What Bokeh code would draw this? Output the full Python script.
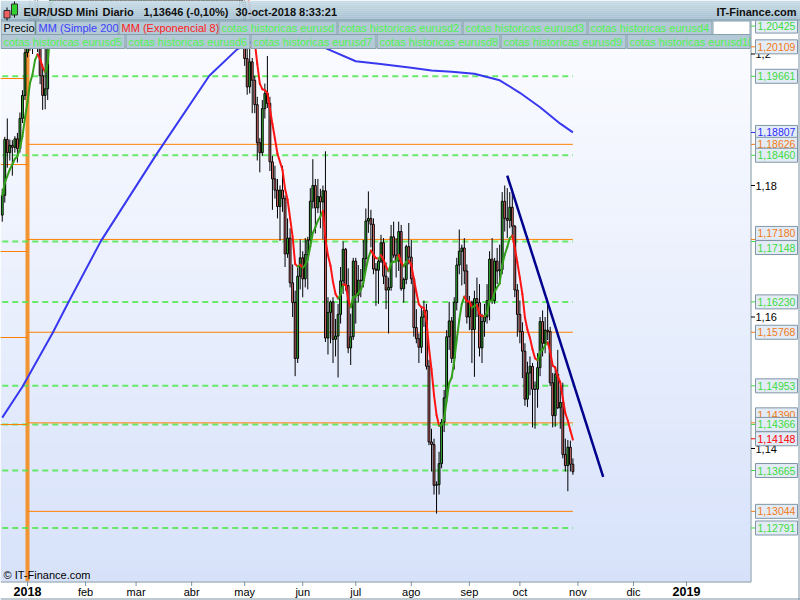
import numpy as np
import pandas as pd
from bokeh.plotting import figure
from bokeh.models import Range1d, ColumnDataSource
from bokeh.core.properties import value
from bokeh.embed import file_html
from bokeh.resources import INLINE

FONT = "Liberation Sans"

# ---------------------------------------------------------------------------
# EUR/USD daily sessions: (open, high, low, close), one list per month
# ---------------------------------------------------------------------------
dec_2017 = [
    (1.1755, 1.1795, 1.1745, 1.1785), (1.1785, 1.1874, 1.1774, 1.1870),
    (1.1870, 1.1902, 1.1827, 1.1850), (1.1850, 1.1870, 1.1838, 1.1861),
    (1.1861, 1.1869, 1.1815, 1.1858), (1.1858, 1.1875, 1.1850, 1.1871),
    (1.1871, 1.1880, 1.1835, 1.1856), (1.1856, 1.1911, 1.1850, 1.1902),
    (1.1902, 1.1945, 1.1895, 1.1937), (1.1937, 1.2023, 1.1930, 1.2002),
]
jan_2018 = [
    (1.2002, 1.2030, 1.1995, 1.2010), (1.2010, 1.2081, 1.2005, 1.2058),
    (1.2058, 1.2066, 1.2000, 1.2016), (1.2016, 1.2089, 1.2010, 1.2067),
    (1.2067, 1.2088, 1.2003, 1.2029), (1.2029, 1.2035, 1.1954, 1.1967),
    (1.1967, 1.1985, 1.1915, 1.1937), (1.1937, 1.2018, 1.1916, 1.1947),
    (1.1947, 1.2058, 1.1930, 1.2035), (1.2035, 1.2218, 1.2030, 1.2200),
    (1.2200, 1.2296, 1.2190, 1.2265), (1.2265, 1.2323, 1.2220, 1.2262),
    (1.2262, 1.2290, 1.2165, 1.2237), (1.2237, 1.2295, 1.2200, 1.2238),
    (1.2238, 1.2297, 1.2210, 1.2221), (1.2221, 1.2272, 1.2217, 1.2262),
    (1.2262, 1.2308, 1.2235, 1.2300), (1.2300, 1.2415, 1.2295, 1.2408),
    (1.2408, 1.2537, 1.2370, 1.2398), (1.2398, 1.2455, 1.2376, 1.2427),
    (1.2427, 1.2435, 1.2335, 1.2383), (1.2383, 1.2426, 1.2336, 1.2399),
    (1.2399, 1.2475, 1.2385, 1.2414),
]
feb_2018 = [
    (1.2414, 1.2522, 1.2405, 1.2510), (1.2510, 1.2525, 1.2440, 1.2459),
    (1.2459, 1.2490, 1.2360, 1.2367), (1.2367, 1.2438, 1.2335, 1.2382),
    (1.2382, 1.2405, 1.2260, 1.2267), (1.2267, 1.2295, 1.2205, 1.2254),
    (1.2254, 1.2290, 1.2206, 1.2251), (1.2251, 1.2307, 1.2245, 1.2290),
    (1.2290, 1.2370, 1.2270, 1.2354), (1.2354, 1.2470, 1.2275, 1.2451),
    (1.2451, 1.2515, 1.2435, 1.2505), (1.2505, 1.2555, 1.2395, 1.2408),
    (1.2408, 1.2426, 1.2376, 1.2408), (1.2408, 1.2425, 1.2320, 1.2335),
    (1.2335, 1.2360, 1.2260, 1.2285), (1.2285, 1.2335, 1.2260, 1.2327),
    (1.2327, 1.2335, 1.2280, 1.2296), (1.2296, 1.2355, 1.2280, 1.2315),
    (1.2315, 1.2340, 1.2222, 1.2232), (1.2232, 1.2245, 1.2190, 1.2194),
]
mar_2018 = [
    (1.2194, 1.2273, 1.2155, 1.2268), (1.2268, 1.2335, 1.2265, 1.2316),
    (1.2316, 1.2365, 1.2270, 1.2338), (1.2338, 1.2415, 1.2330, 1.2404),
    (1.2404, 1.2445, 1.2395, 1.2408), (1.2408, 1.2448, 1.2300, 1.2312),
    (1.2312, 1.2336, 1.2260, 1.2306), (1.2306, 1.2350, 1.2290, 1.2335),
    (1.2335, 1.2413, 1.2315, 1.2392), (1.2392, 1.2410, 1.2360, 1.2368),
    (1.2368, 1.2385, 1.2295, 1.2308), (1.2308, 1.2340, 1.2260, 1.2286),
    (1.2286, 1.2355, 1.2270, 1.2337), (1.2337, 1.2350, 1.2239, 1.2239),
    (1.2239, 1.2355, 1.2240, 1.2340), (1.2340, 1.2388, 1.2280, 1.2300),
    (1.2300, 1.2378, 1.2295, 1.2353), (1.2353, 1.2475, 1.2350, 1.2447),
    (1.2447, 1.2477, 1.2385, 1.2397), (1.2397, 1.2405, 1.2300, 1.2310),
    (1.2310, 1.2345, 1.2295, 1.2323), (1.2323, 1.2335, 1.2310, 1.2322),
]
apr_2018 = [
    (1.2322, 1.2330, 1.2280, 1.2303), (1.2303, 1.2325, 1.2255, 1.2270),
    (1.2270, 1.2318, 1.2265, 1.2277), (1.2277, 1.2290, 1.2215, 1.2237),
    (1.2237, 1.2297, 1.2215, 1.2282), (1.2282, 1.2340, 1.2255, 1.2320),
    (1.2320, 1.2380, 1.2300, 1.2355), (1.2355, 1.2395, 1.2340, 1.2368),
    (1.2368, 1.2385, 1.2310, 1.2327), (1.2327, 1.2368, 1.2310, 1.2330),
    (1.2330, 1.2390, 1.2315, 1.2380), (1.2380, 1.2415, 1.2355, 1.2371),
    (1.2371, 1.2400, 1.2350, 1.2375), (1.2375, 1.2410, 1.2340, 1.2345),
    (1.2345, 1.2355, 1.2275, 1.2288), (1.2288, 1.2292, 1.2198, 1.2212),
    (1.2212, 1.2252, 1.2183, 1.2233), (1.2233, 1.2238, 1.2160, 1.2163),
    (1.2163, 1.2210, 1.2094, 1.2103), (1.2103, 1.2137, 1.2055, 1.2130),
    (1.2130, 1.2143, 1.2073, 1.2078),
]
may_2018 = [
    (1.2078, 1.2092, 1.1982, 1.1993), (1.1993, 1.2018, 1.1938, 1.1950),
    (1.1950, 1.2010, 1.1940, 1.1988), (1.1988, 1.1994, 1.1910, 1.1960),
    (1.1960, 1.1967, 1.1910, 1.1923), (1.1923, 1.1935, 1.1838, 1.1865),
    (1.1865, 1.1872, 1.1820, 1.1850), (1.1850, 1.1930, 1.1845, 1.1917),
    (1.1917, 1.1955, 1.1902, 1.1940), (1.1940, 1.1997, 1.1918, 1.1925),
    (1.1925, 1.1935, 1.1822, 1.1836), (1.1836, 1.1845, 1.1763, 1.1810),
    (1.1810, 1.1830, 1.1780, 1.1793), (1.1793, 1.1810, 1.1750, 1.1768),
    (1.1768, 1.1800, 1.1716, 1.1793), (1.1793, 1.1830, 1.1760, 1.1780),
    (1.1780, 1.1785, 1.1676, 1.1696), (1.1696, 1.1750, 1.1690, 1.1720),
    (1.1720, 1.1735, 1.1645, 1.1652), (1.1652, 1.1680, 1.1600, 1.1622),
    (1.1622, 1.1640, 1.1510, 1.1537), (1.1537, 1.1675, 1.1530, 1.1662),
    (1.1662, 1.1718, 1.1642, 1.1690),
]
jun_2018 = [
    (1.1690, 1.1700, 1.1630, 1.1658), (1.1658, 1.1720, 1.1645, 1.1695),
    (1.1695, 1.1722, 1.1642, 1.1717), (1.1717, 1.1796, 1.1705, 1.1776),
    (1.1776, 1.1840, 1.1765, 1.1800), (1.1800, 1.1810, 1.1727, 1.1766),
    (1.1766, 1.1810, 1.1758, 1.1783), (1.1783, 1.1795, 1.1735, 1.1775),
    (1.1775, 1.1800, 1.1718, 1.1792), (1.1792, 1.1852, 1.1562, 1.1568),
    (1.1568, 1.1630, 1.1543, 1.1607), (1.1607, 1.1625, 1.1560, 1.1623),
    (1.1623, 1.1630, 1.1530, 1.1566), (1.1566, 1.1597, 1.1540, 1.1571),
    (1.1571, 1.1620, 1.1508, 1.1604), (1.1604, 1.1676, 1.1590, 1.1655),
    (1.1655, 1.1715, 1.1635, 1.1703), (1.1703, 1.1705, 1.1640, 1.1648),
    (1.1648, 1.1674, 1.1545, 1.1553), (1.1553, 1.1605, 1.1527, 1.1570),
    (1.1570, 1.1690, 1.1565, 1.1685),
]
jul_2018 = [
    (1.1685, 1.1690, 1.1590, 1.1633), (1.1633, 1.1679, 1.1622, 1.1656),
    (1.1656, 1.1673, 1.1630, 1.1655), (1.1655, 1.1717, 1.1645, 1.1689),
    (1.1689, 1.1765, 1.1673, 1.1746), (1.1746, 1.1791, 1.1728, 1.1750),
    (1.1750, 1.1763, 1.1706, 1.1741), (1.1741, 1.1750, 1.1665, 1.1673),
    (1.1673, 1.1682, 1.1617, 1.1671), (1.1671, 1.1690, 1.1620, 1.1685),
    (1.1685, 1.1725, 1.1682, 1.1713), (1.1713, 1.1720, 1.1650, 1.1662),
    (1.1662, 1.1683, 1.1612, 1.1641), (1.1641, 1.1660, 1.1575, 1.1645),
    (1.1645, 1.1740, 1.1640, 1.1722), (1.1722, 1.1745, 1.1690, 1.1694),
    (1.1694, 1.1720, 1.1660, 1.1685), (1.1685, 1.1745, 1.1670, 1.1730),
    (1.1730, 1.1740, 1.1640, 1.1643), (1.1643, 1.1660, 1.1622, 1.1657),
    (1.1657, 1.1710, 1.1650, 1.1707), (1.1707, 1.1743, 1.1680, 1.1691),
]
aug_2018 = [
    (1.1691, 1.1717, 1.1650, 1.1658), (1.1658, 1.1660, 1.1570, 1.1584),
    (1.1584, 1.1612, 1.1560, 1.1567), (1.1567, 1.1575, 1.1530, 1.1554),
    (1.1554, 1.1615, 1.1545, 1.1600), (1.1600, 1.1625, 1.1585, 1.1610),
    (1.1610, 1.1620, 1.1520, 1.1525), (1.1525, 1.1535, 1.1405, 1.1410),
    (1.1410, 1.1430, 1.1365, 1.1406), (1.1406, 1.1415, 1.1330, 1.1344),
    (1.1344, 1.1350, 1.1301, 1.1345), (1.1345, 1.1395, 1.1330, 1.1377),
    (1.1377, 1.1445, 1.1370, 1.1440), (1.1440, 1.1489, 1.1425, 1.1477),
    (1.1477, 1.1580, 1.1470, 1.1570), (1.1570, 1.1623, 1.1550, 1.1594),
    (1.1594, 1.1600, 1.1530, 1.1537), (1.1537, 1.1630, 1.1520, 1.1622),
    (1.1622, 1.1690, 1.1610, 1.1679), (1.1679, 1.1733, 1.1665, 1.1700),
    (1.1700, 1.1710, 1.1648, 1.1705), (1.1705, 1.1720, 1.1650, 1.1670),
    (1.1670, 1.1680, 1.1590, 1.1600),
]
sep_2018 = [
    (1.1600, 1.1632, 1.1580, 1.1622), (1.1622, 1.1625, 1.1530, 1.1581),
    (1.1581, 1.1640, 1.1509, 1.1628), (1.1628, 1.1660, 1.1600, 1.1622),
    (1.1622, 1.1650, 1.1540, 1.1553), (1.1553, 1.1605, 1.1530, 1.1593),
    (1.1593, 1.1620, 1.1570, 1.1600), (1.1600, 1.1650, 1.1590, 1.1625),
    (1.1625, 1.1700, 1.1595, 1.1688), (1.1688, 1.1720, 1.1620, 1.1625),
    (1.1625, 1.1690, 1.1620, 1.1685), (1.1685, 1.1705, 1.1650, 1.1670),
    (1.1670, 1.1710, 1.1650, 1.1672), (1.1672, 1.1790, 1.1665, 1.1776),
    (1.1776, 1.1800, 1.1730, 1.1750), (1.1750, 1.1796, 1.1720, 1.1747),
    (1.1747, 1.1790, 1.1735, 1.1767), (1.1767, 1.1795, 1.1720, 1.1738),
    (1.1738, 1.1740, 1.1630, 1.1641), (1.1641, 1.1650, 1.1570, 1.1604),
]
oct_2018 = [
    (1.1604, 1.1625, 1.1560, 1.1578), (1.1578, 1.1592, 1.1507, 1.1548),
    (1.1548, 1.1560, 1.1465, 1.1475), (1.1475, 1.1532, 1.1463, 1.1515),
    (1.1515, 1.1540, 1.1481, 1.1525), (1.1525, 1.1530, 1.1432, 1.1490),
    (1.1490, 1.1502, 1.1430, 1.1490), (1.1490, 1.1545, 1.1462, 1.1523),
    (1.1523, 1.1600, 1.1510, 1.1593), (1.1593, 1.1610, 1.1540, 1.1560),
    (1.1560, 1.1600, 1.1545, 1.1580), (1.1580, 1.1622, 1.1565, 1.1578),
    (1.1578, 1.1585, 1.1495, 1.1500), (1.1500, 1.1515, 1.1432, 1.1450),
    (1.1450, 1.1525, 1.1433, 1.1513), (1.1513, 1.1550, 1.1460, 1.1462),
    (1.1462, 1.1495, 1.1430, 1.1470), (1.1470, 1.1500, 1.1385, 1.1391),
    (1.1391, 1.1415, 1.1365, 1.1374), (1.1374, 1.1413, 1.1335, 1.1402),
    (1.1402, 1.1412, 1.1365, 1.1376), (1.1376, 1.1385, 1.1360, 1.13646),
]
first_session, last_session = "2017-12-18", "2018-10-30"

# Simple moving average (200) at selected sessions
sma_dates = ["2017-12-18", "2017-12-28", "2018-01-15", "2018-01-23", "2018-02-09",
             "2018-03-13", "2018-04-11", "2018-04-26", "2018-05-14", "2018-05-29",
             "2018-06-07", "2018-06-14", "2018-07-02", "2018-07-13", "2018-08-01",
             "2018-08-13", "2018-08-23", "2018-09-05", "2018-09-19", "2018-10-01",
             "2018-10-11", "2018-10-23", "2018-10-30"]
sma_values = [1.1447, 1.1494, 1.1576, 1.1621, 1.1715,
              1.1847, 1.1967, 1.2007, 1.2030, 1.2038,
              1.2032, 1.2009, 1.1989, 1.1985, 1.1979,
              1.1975, 1.1973, 1.1970, 1.1960, 1.1941,
              1.1919, 1.1894, 1.18807]

# Downtrend line drawn from the September high
trend_dates = ["2018-09-24", "2018-11-15"]
trend_prices = [1.1815, 1.1357]

# Historical levels ("cotas historicas") and yearly levels
green_levels = [1.20425, 1.19661, 1.18460, 1.17148, 1.16230,
                1.14953, 1.14366, 1.13665, 1.12791]
orange_levels = [1.20109, 1.18626, 1.17180, 1.15768, 1.14390, 1.13044]
prior_year_levels = [1.19627, 1.18319, 1.16996, 1.15688, 1.14365]
ema8_quote = 1.14148
price_ticks = [1.14, 1.16, 1.18, 1.20]

# Month axis
month_starts = ["2018-01-01", "2018-02-01", "2018-03-01", "2018-04-01", "2018-05-01",
                "2018-06-01", "2018-07-01", "2018-08-01", "2018-09-01", "2018-10-01",
                "2018-11-01", "2018-12-01", "2019-01-01"]
month_names = ["2018", "feb", "mar", "abr", "may", "jun", "jul", "ago", "sep",
               "oct", "nov", "dic", "2019"]

# ---------------------------------------------------------------------------
YEAR_START = np.datetime64("2018-01-01")


def session_pos(d):
    """Weekday-session position relative to 1 Jan 2018."""
    return np.busday_count(YEAR_START, np.asarray(d, dtype="datetime64[D]"))


months = [dec_2017, jan_2018, feb_2018, mar_2018, apr_2018, may_2018,
          jun_2018, jul_2018, aug_2018, sep_2018, oct_2018]
bars = [b for m in months for b in m]
dates = pd.bdate_range(first_session, last_session)
assert len(dates) == len(bars), (len(dates), len(bars))

xs = session_pos(dates.values.astype("datetime64[D]")).astype(float)
o = np.array([b[0] for b in bars])
h = np.array([b[1] for b in bars])
l = np.array([b[2] for b in bars])
c = np.array([b[3] for b in bars])

# Exponential moving average (8)
alpha = 2.0 / (8 + 1)
ema = np.empty_like(c)
ema[0] = c[0]
for i in range(1, len(c)):
    ema[i] = ema[i - 1] + alpha * (c[i] - ema[i - 1])

# ---------------------------------------------------------------------------
# page geometry (pixels) and scale set-up
W, H = 800, 600
PLOT_L, PLOT_R, PLOT_T, PLOT_B = 0, 750, 20, 581
JAN1_PX, PX_PER_SESSION = 27.0, 2.525
REF_PRICE, REF_PX, PX_PER_UNIT = 1.18, 185.0, 6575.0

x_lo = (0 - JAN1_PX) / PX_PER_SESSION
x_hi = (W - JAN1_PX) / PX_PER_SESSION
y_lo = REF_PRICE - (H - REF_PX) / PX_PER_UNIT
y_hi = REF_PRICE + REF_PX / PX_PER_UNIT

p = figure(width=W, height=H, output_backend="svg", toolbar_location=None,
           x_range=Range1d(x_lo, x_hi), y_range=Range1d(y_lo, y_hi),
           x_axis_location=None, y_axis_location=None, min_border=0,
           outline_line_color=None, background_fill_color="white",
           border_fill_color="white")
p.grid.visible = False
p.extra_x_ranges = {"px": Range1d(0, W)}
p.extra_y_ranges = {"px": Range1d(H, 0)}
PX = dict(x_range_name="px", y_range_name="px")
PXX = dict(x_range_name="px")
PXY = dict(y_range_name="px")
AXIS_GREY = "#7c93a2"


def mix(c1, c2, t):
    a = [int(c1[i:i + 2], 16) for i in (1, 3, 5)]
    b = [int(c2[i:i + 2], 16) for i in (1, 3, 5)]
    return "#%02x%02x%02x" % tuple(round(a[k] + (b[k] - a[k]) * t) for k in range(3))


def texts(x, y, t, size="11px", color="black", align="left", style="normal", **kw):
    p.text(x=x, y=y, text=t, text_font=value(FONT), text_font_size=value(size),
           text_color=color, text_align=value(align), text_baseline=value("middle"),
           text_font_style=value(style), **kw)


# plot background gradient
n_bands = 48
edges = np.linspace(PLOT_T, PLOT_B, n_bands + 1)
p.quad(left=PLOT_L, right=PLOT_R, top=edges[:-1], bottom=edges[1:] + 0.6,
       fill_color=[mix("#fbfcff", "#d7e2fa", k / (n_bands - 1)) for k in range(n_bands)],
       line_color=None, **PX)

# year separator
jan1 = float(session_pos("2018-01-01"))
p.segment(x0=[jan1], x1=[jan1], y0=[PLOT_T], y1=[PLOT_B], line_color="#f39433",
          line_width=4, **PXY)

# levels
x_first, x_last = xs[0], xs[-1]
n_g, n_o, n_p = len(green_levels), len(orange_levels), len(prior_year_levels)
p.segment(x0=[x_first] * n_g, x1=[x_last] * n_g, y0=green_levels, y1=green_levels,
          line_color="#50e850", line_alpha=0.85, line_width=2, line_dash="6 4")
p.segment(x0=[jan1] * n_o, x1=[x_last] * n_o, y0=orange_levels, y1=orange_levels,
          line_color="#ff8000", line_width=1)
p.segment(x0=[x_lo] * n_p, x1=[jan1] * n_p, y0=prior_year_levels, y1=prior_year_levels,
          line_color="#ff8000", line_width=1)

# candles
up = c >= o
src = ColumnDataSource(dict(
    x=xs, top=np.maximum(o, c), bottom=np.minimum(o, c), high=h, low=l,
    fill=np.where(up, "#36c236", "#f07474")))
p.segment(x0="x", x1="x", y0="low", y1="high", source=src, line_color="black",
          line_width=1)
p.vbar(x="x", width=0.72, top="top", bottom="bottom", fill_color="fill",
       line_color="black", line_width=1, source=src)

# EMA 8 (green while rising, red while falling)
ema_col = np.where(ema[1:] >= ema[:-1], "#35a01c", "#ff1414")
p.segment(x0=xs[:-1], y0=ema[:-1], x1=xs[1:], y1=ema[1:], line_color=ema_col,
          line_width=2, line_cap="round")

# SMA 200
p.line(session_pos(sma_dates).astype(float), sma_values, line_color="#3838f0",
       line_width=2)

# trend line
p.line(session_pos(trend_dates).astype(float), trend_prices, line_color="#00008c",
       line_width=2.5)

# copyright
texts([3], [574], ["\u00a9 IT-Finance.com"], **PX)

# ---------------------------------------------------------------------------
# panels around the plot area
p.quad(left=[PLOT_R, 0], right=[W, W], top=[PLOT_T, PLOT_B], bottom=[H, H],
       fill_color="white", line_color=None, **PX)

# indicator strip: each cell is painted before the next one, which trims overflow
GREEN_L = "#52f252"
CELL = "#b3c9d5"
strip = [
    (20.5, 34, [(0, 35, "Precio", "black", "#c3d6e0"),
                (35, 118, "MM (Simple 200)", "#4040ff", CELL),
                (118, 218, "MM (Exponencial 8)", "#ff2020", CELL),
                (218, 337, "cotas historicas eurusd", GREEN_L, CELL),
                (337, 462, "cotas historicas eurusd2", GREEN_L, CELL),
                (462, 587, "cotas historicas eurusd3", GREEN_L, CELL),
                (587, 712, "cotas historicas eurusd4", GREEN_L, CELL),
                (712, 750, "", "black", "#ffffff")]),
    (34, 48, [(0, 125, "cotas historicas eurusd5", GREEN_L, CELL),
              (125, 250, "cotas historicas eurusd6", GREEN_L, CELL),
              (250, 376, "cotas historicas eurusd7", GREEN_L, CELL),
              (376, 500, "cotas historicas eurusd8", GREEN_L, CELL),
              (500, 626, "cotas historicas eurusd9", GREEN_L, CELL),
              (626, 750, "cotas historicas eurusd10", GREEN_L, CELL)]),
]
for y0, y1, cells in strip:
    for x0, x1, t, tc, bg in cells:
        p.quad(left=[x0 + 0.5], right=[x1 - 0.5], top=[y0], bottom=[y1],
               fill_color=bg, line_color="#86a0ae", line_width=1, **PX)
        if t:
            texts([x0 + 3], [(y0 + y1) / 2 + 0.5], [t], color=tc, **PX)
p.quad(left=[PLOT_R + 0.5], right=[W], top=[PLOT_T], bottom=[50],
       fill_color="white", line_color=None, **PX)

# plot frame and outer border
p.segment(x0=[PLOT_R + 0.5, 0, W - 1.5, 0], x1=[PLOT_R + 0.5, PLOT_R + 0.5, W - 1.5, W],
          y0=[PLOT_T, PLOT_B + 0.5, PLOT_T, H - 1.5],
          y1=[PLOT_B + 0.5, PLOT_B + 0.5, H, H - 1.5],
          line_color=AXIS_GREY, line_width=1, **PX)

# time axis
tick_pos = [float(session_pos(np.busday_offset(np.datetime64(m), 0, roll="forward")))
            for m in month_starts]
p.segment(x0=tick_pos, x1=tick_pos, y0=[PLOT_B] * len(tick_pos),
          y1=[PLOT_B + 4.5] * len(tick_pos), line_color=AXIS_GREY, **PXY)
reg = [(t, n) for t, n in zip(tick_pos, month_names) if not n.isdigit()]
yrs = [(t, n) for t, n in zip(tick_pos, month_names) if n.isdigit()]
texts([t for t, _ in reg], [591] * len(reg), [n for _, n in reg], align="center", **PXY)
texts([t for t, _ in yrs], [591] * len(yrs), [n for _, n in yrs], size="12.5px",
      align="center", style="bold", **PXY)

# price axis
p.segment(x0=[PLOT_R + 0.5] * len(price_ticks), x1=[PLOT_R + 4.5] * len(price_ticks),
          y0=price_ticks, y1=price_ticks, line_color="black", **PXX)
texts([PLOT_R + 5] * len(price_ticks), price_ticks,
      [f"{t:.2f}".rstrip("0").replace(".", ",") for t in price_ticks], **PXX)

# boxed quotes on the price axis
GREEN_T, ORANGE_T, BLUE_T, RED_T = "#3cdc3c", "#f27a12", "#2b2bff", "#ff0000"
quotes = ([(v, GREEN_T) for v in green_levels] +
          [(v, ORANGE_T) for v in orange_levels] +
          [(sma_values[-1], BLUE_T), (ema8_quote, RED_T)])
quotes.sort(key=lambda q: -q[0])
nudge_px = {1.17180: 6, 1.17148: -6, 1.14390: 8}
for v, col in quotes:
    yv = v + nudge_px.get(v, 0) / PX_PER_UNIT
    p.segment(x0=[PLOT_R + 0.5], x1=[PLOT_R + 4.5], y0=[v], y1=[v], line_color=col, **PXX)
    p.rect(x=[776], y=[yv], width=42, height=14, width_units="screen",
           height_units="screen", fill_color="#e3ebf7", line_color="#8096a6",
           line_width=1, **PXX)
    texts([757], [yv], [f"{v:.5f}".replace(".", ",")], size="10.5px", color=col, **PXX)

# header bar
hb = np.linspace(0, 20, 11)
p.quad(left=0, right=W, top=hb[:-1], bottom=hb[1:] + 0.3,
       fill_color=[mix("#c8dce7", "#a6c1d1", k / 9) for k in range(10)],
       line_color=None, **PX)
p.segment(x0=[0], x1=[W], y0=[19.5], y1=[19.5], line_color="#7e98a8", **PX)

# candlestick icon
p.segment(x0=[6.5, 14], x1=[6.5, 14], y0=[7, 1], y1=[20, 17], line_color="black", **PX)
p.quad(left=[3.5, 11], right=[9.5, 17], top=[10, 3.5], bottom=[17.5, 14.5],
       fill_color=["#f06060", "#30d030"], line_color="#303030", line_width=1, **PX)

last, prev = c[-1], c[-2]
chg = (last / prev - 1) * 100
head = [(23, "EUR/USD Mini"), (102, "Diario"),
        (143, f"{last:.5f} ({chg:+.2f}%)".replace(".", ",")),
        (235, "30-oct-2018 8:33:21")]
texts([x for x, _ in head], [11] * len(head), [t for _, t in head], color="#101010",
      style="bold", **PX)
texts([796], [11], ["IT-Finance.com"], color="#101010", align="right", style="bold", **PX)

open("out.html", "w").write(file_html(p, INLINE))
